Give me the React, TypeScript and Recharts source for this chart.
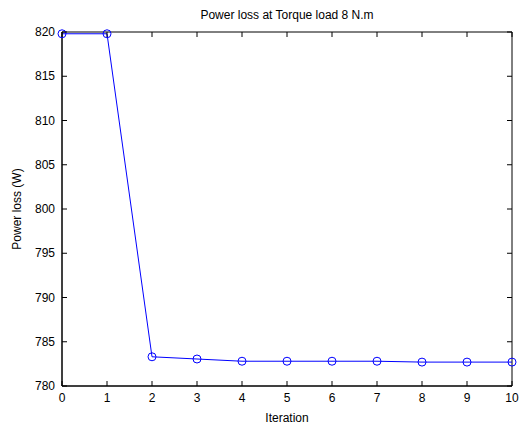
import React from 'react';
import { LineChart, Line, XAxis, YAxis, Label, ReferenceArea } from 'recharts';

const iterations = [0, 1, 2, 3, 4, 5, 6, 7, 8, 9, 10];
const powerLoss = [819.8, 819.8, 783.3, 783.05, 782.8, 782.8, 782.8, 782.8, 782.7, 782.7, 782.7];
const xTicks = [0, 1, 2, 3, 4, 5, 6, 7, 8, 9, 10];
const yTicks = [780, 785, 790, 795, 800, 805, 810, 815, 820];

const data = iterations.map((it, i) => ({ it, loss: powerLoss[i] }));

const W = 521;
const H = 424;
const M = { top: 32, right: 9, bottom: 0, left: 0 };
const Y_W = 62;
const X_H = 38;
const plotTop = M.top;
const plotBottom = H - M.bottom - X_H;
const plotLeft = M.left + Y_W;
const plotRight = W - M.right;
const font = 'Liberation Sans, Arial, sans-serif';

const XTick = (props: any) => {
  const { x, payload } = props;
  return (
    <g>
      <line x1={x} x2={x} y1={plotBottom} y2={plotBottom - 5} stroke="#000" />
      <line x1={x} x2={x} y1={plotTop} y2={plotTop + 5} stroke="#000" />
      <text x={x} y={plotBottom + 16} textAnchor="middle" fontSize={12} fontFamily={font} fill="#000">
        {payload.value}
      </text>
    </g>
  );
};

const YTick = (props: any) => {
  const { y, payload } = props;
  return (
    <g>
      <line x1={plotLeft} x2={plotLeft + 5} y1={y} y2={y} stroke="#000" />
      <line x1={plotRight} x2={plotRight - 5} y1={y} y2={y} stroke="#000" />
      <text x={plotLeft - 7} y={y + 4} textAnchor="end" fontSize={12} fontFamily={font} fill="#000">
        {payload.value}
      </text>
    </g>
  );
};

export default function App() {
  return (
    <div style={{ width: W, height: H, background: '#fff' }}>
      <style>{'body{margin:0}'}</style>
      <LineChart width={W} height={H} data={data} margin={M}>
        <text x={(plotLeft + plotRight) / 2} y={19} textAnchor="middle" fontSize={12} fontFamily={font} fill="#000">
          Power loss at Torque load 8 N.m
        </text>
        <XAxis
          dataKey="it"
          type="number"
          domain={[0, 10]}
          ticks={xTicks}
          height={X_H}
          tickSize={0}
          tickLine={false}
          axisLine={{ stroke: '#000' }}
          tick={<XTick />}
          interval={0}
        >
          <Label value="Iteration" position="insideBottom" offset={2} fontSize={12} fontFamily={font} fill="#000" />
        </XAxis>
        <YAxis
          type="number"
          domain={[780, 820]}
          ticks={yTicks}
          width={Y_W}
          tickSize={0}
          tickLine={false}
          axisLine={{ stroke: '#000' }}
          tick={<YTick />}
          interval={0}
        >
          <Label value="Power loss (W)" angle={-90} position="insideLeft" offset={17} fontSize={12} fontFamily={font} fill="#000" style={{ textAnchor: 'middle' }} />
        </YAxis>
        <ReferenceArea x1={0} x2={10} y1={780} y2={820} fill="none" stroke="#000" strokeWidth={1} ifOverflow="visible" />
        <Line
          dataKey="loss"
          stroke="#0000ff"
          strokeWidth={1}
          dot={{ r: 4, stroke: '#0000ff', strokeWidth: 1, fill: 'none' }}
          isAnimationActive={false}
        />
      </LineChart>
    </div>
  );
}
